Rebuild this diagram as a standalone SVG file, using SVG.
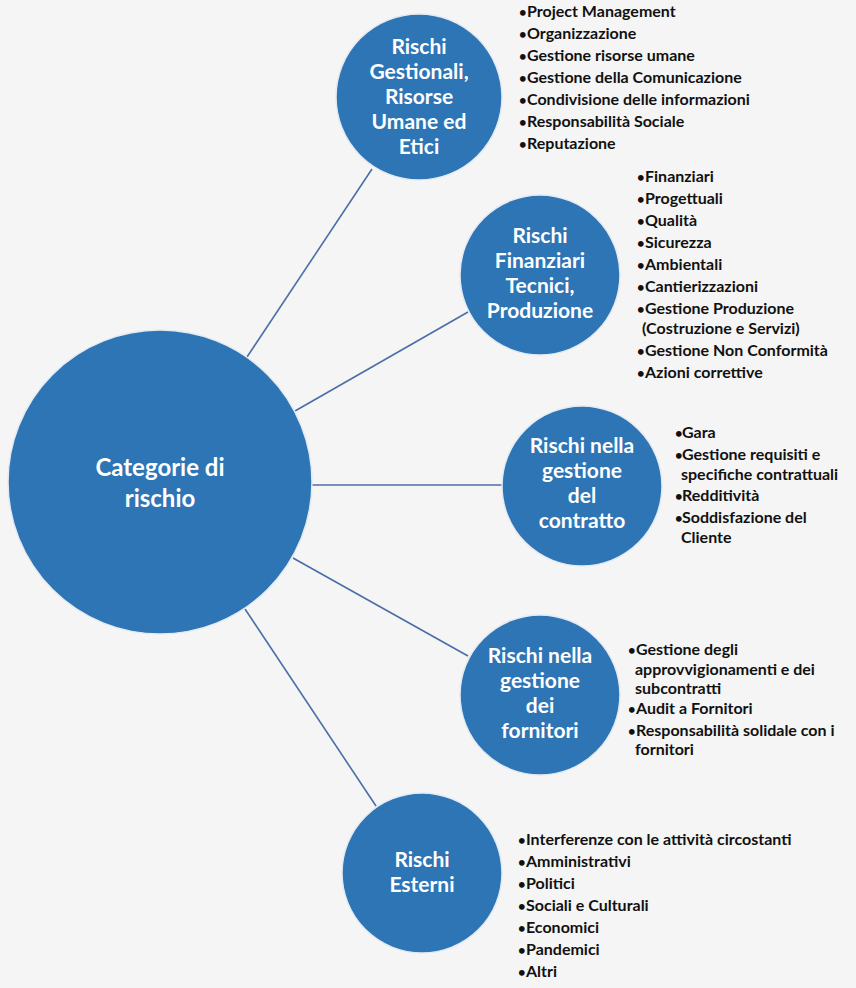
<svg xmlns="http://www.w3.org/2000/svg" width="856" height="988" viewBox="0 0 856 988">
<style>
.bg{fill:#f5f5f5}
.node{fill:#2e75b6;stroke:#e4eaf2;stroke-width:1.5}
.lbl{font-family:Lato,"Open Sans","Liberation Sans",sans-serif;font-weight:bold;fill:#ffffff;text-anchor:middle;font-size:21px}
.main{font-size:24px}
.lst{font-family:Lato,"Open Sans","Liberation Sans",sans-serif;font-weight:bold;fill:#111111;font-size:16px}
.b{font-size:13px}
.conn line{stroke:#4a6ea8;stroke-width:1.6}
</style>
<rect class="bg" x="0" y="0" width="856" height="988"/>
<g class="conn" id="connectors">
<line x1="247" y1="357" x2="372" y2="169"/>
<line x1="295" y1="411" x2="468" y2="312"/>
<line x1="312" y1="485" x2="502" y2="485"/>
<line x1="293" y1="558" x2="468" y2="656"/>
<line x1="245" y1="609" x2="376" y2="806"/>
</g>
<g id="node-main">
<circle class="node" cx="160" cy="482" r="152"/>
<text class="lbl main" x="160" y="476">Categorie di</text>
<text class="lbl main" x="160" y="507">rischio</text>
</g>
<g id="node-gestionali">
<circle class="node" cx="419" cy="97" r="83"/>
<text class="lbl" x="419" y="54">Rischi</text>
<text class="lbl" x="419" y="79">Gestionali,</text>
<text class="lbl" x="419" y="104">Risorse</text>
<text class="lbl" x="419" y="129">Umane ed</text>
<text class="lbl" x="419" y="154">Etici</text>
</g>
<g id="list-gestionali" class="lst">
<text y="17"><tspan class="b" x="519">•</tspan><tspan x="527">Project Management</tspan></text>
<text y="39"><tspan class="b" x="519">•</tspan><tspan x="527">Organizzazione</tspan></text>
<text y="61"><tspan class="b" x="519">•</tspan><tspan x="527">Gestione risorse umane</tspan></text>
<text y="83"><tspan class="b" x="519">•</tspan><tspan x="527">Gestione della Comunicazione</tspan></text>
<text y="105"><tspan class="b" x="519">•</tspan><tspan x="527">Condivisione  delle informazioni</tspan></text>
<text y="127"><tspan class="b" x="519">•</tspan><tspan x="527">Responsabilità Sociale</tspan></text>
<text y="149"><tspan class="b" x="519">•</tspan><tspan x="527">Reputazione</tspan></text>
</g>
<g id="node-finanziari">
<circle class="node" cx="540" cy="275" r="80"/>
<text class="lbl" x="540" y="243">Rischi</text>
<text class="lbl" x="540" y="268">Finanziari</text>
<text class="lbl" x="540" y="293">Tecnici,</text>
<text class="lbl" x="540" y="318">Produzione</text>
</g>
<g id="list-finanziari" class="lst">
<text y="182"><tspan class="b" x="637">•</tspan><tspan x="645">Finanziari</tspan></text>
<text y="204"><tspan class="b" x="637">•</tspan><tspan x="645">Progettuali</tspan></text>
<text y="226"><tspan class="b" x="637">•</tspan><tspan x="645">Qualità</tspan></text>
<text y="248"><tspan class="b" x="637">•</tspan><tspan x="645">Sicurezza</tspan></text>
<text y="270"><tspan class="b" x="637">•</tspan><tspan x="645">Ambientali</tspan></text>
<text y="292"><tspan class="b" x="637">•</tspan><tspan x="645">Cantierizzazioni</tspan></text>
<text y="314"><tspan class="b" x="637">•</tspan><tspan x="645">Gestione Produzione</tspan></text>
<text x="642" y="334">(Costruzione e Servizi)</text>
<text y="356"><tspan class="b" x="637">•</tspan><tspan x="645">Gestione Non Conformità</tspan></text>
<text y="378"><tspan class="b" x="637">•</tspan><tspan x="645">Azioni correttive</tspan></text>
</g>
<g id="node-contratto">
<circle class="node" cx="582" cy="486" r="80"/>
<text class="lbl" x="582" y="453">Rischi nella</text>
<text class="lbl" x="582" y="478">gestione</text>
<text class="lbl" x="582" y="503">del</text>
<text class="lbl" x="582" y="528">contratto</text>
</g>
<g id="list-contratto" class="lst">
<text y="438"><tspan class="b" x="675">•</tspan><tspan x="682">Gara</tspan></text>
<text y="460"><tspan class="b" x="675">•</tspan><tspan x="682">Gestione requisiti e</tspan></text>
<text x="681" y="480">specifiche contrattuali</text>
<text y="501"><tspan class="b" x="675">•</tspan><tspan x="682">Redditività</tspan></text>
<text y="523"><tspan class="b" x="675">•</tspan><tspan x="682">Soddisfazione del</tspan></text>
<text x="681" y="543">Cliente</text>
</g>
<g id="node-fornitori">
<circle class="node" cx="540" cy="695" r="80"/>
<text class="lbl" x="540" y="663">Rischi nella</text>
<text class="lbl" x="540" y="688">gestione</text>
<text class="lbl" x="540" y="713">dei</text>
<text class="lbl" x="540" y="738">fornitori</text>
</g>
<g id="list-fornitori" class="lst">
<text y="655"><tspan class="b" x="628">•</tspan><tspan x="636">Gestione degli</tspan></text>
<text x="635" y="675">approvvigionamenti e dei</text>
<text x="635" y="694">subcontratti</text>
<text y="714"><tspan class="b" x="628">•</tspan><tspan x="636">Audit a Fornitori</tspan></text>
<text y="736"><tspan class="b" x="628">•</tspan><tspan x="636">Responsabilità solidale con i</tspan></text>
<text x="635" y="755">fornitori</text>
</g>
<g id="node-esterni">
<circle class="node" cx="422" cy="873" r="80"/>
<text class="lbl" x="422" y="867">Rischi</text>
<text class="lbl" x="422" y="892">Esterni</text>
</g>
<g id="list-esterni" class="lst">
<text y="845"><tspan class="b" x="518">•</tspan><tspan x="526">Interferenze con le attività circostanti</tspan></text>
<text y="867"><tspan class="b" x="518">•</tspan><tspan x="526">Amministrativi</tspan></text>
<text y="889"><tspan class="b" x="518">•</tspan><tspan x="526">Politici</tspan></text>
<text y="911"><tspan class="b" x="518">•</tspan><tspan x="526">Sociali e Culturali</tspan></text>
<text y="933"><tspan class="b" x="518">•</tspan><tspan x="526">Economici</tspan></text>
<text y="955"><tspan class="b" x="518">•</tspan><tspan x="526">Pandemici</tspan></text>
<text y="977"><tspan class="b" x="518">•</tspan><tspan x="526">Altri</tspan></text>
</g>
</svg>
